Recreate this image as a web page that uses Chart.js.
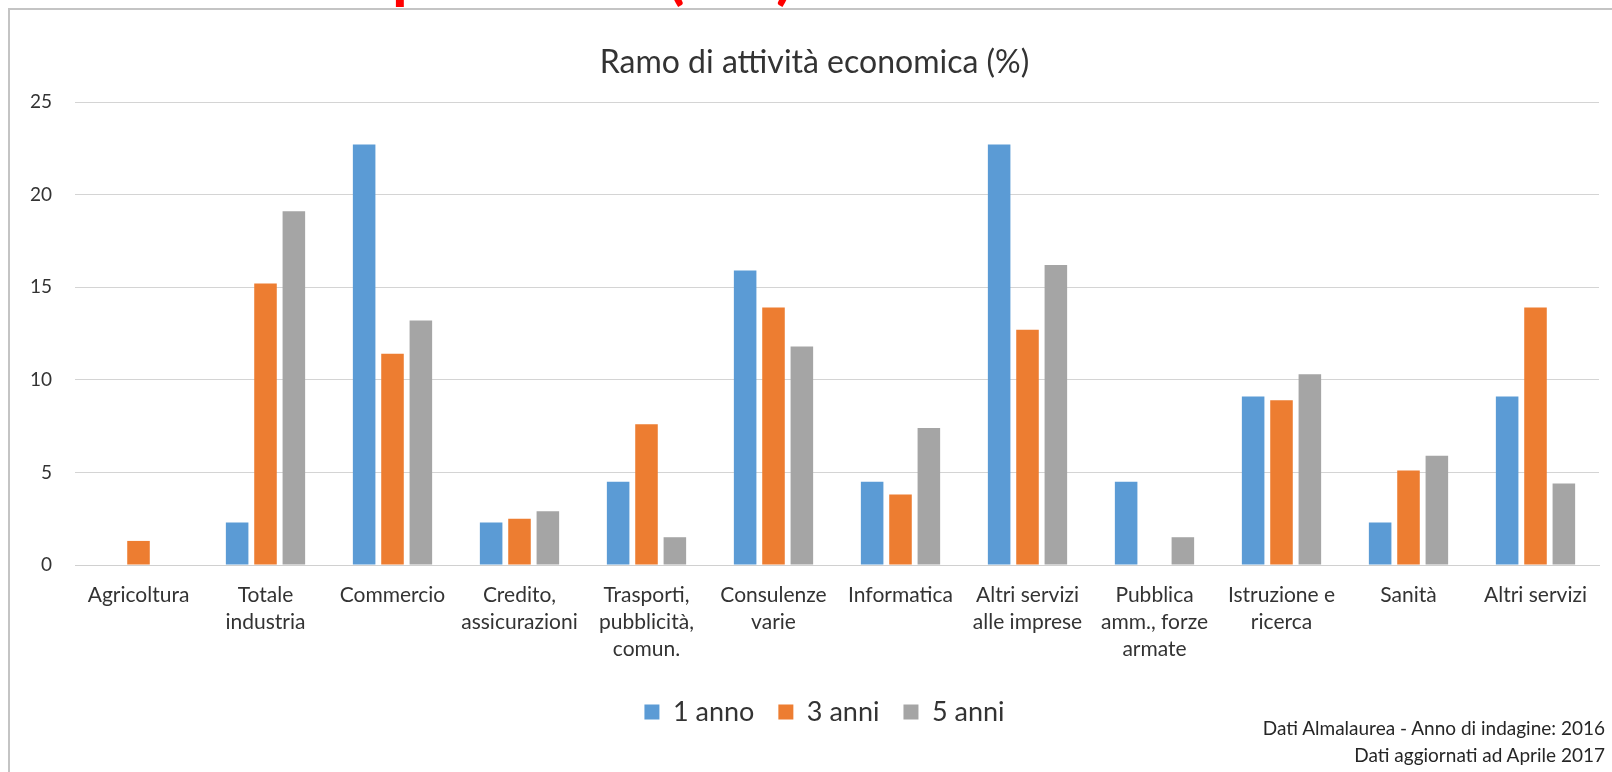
<!DOCTYPE html>
<html>
<head>
<meta charset="utf-8">
<script src="https://cdn.jsdelivr.net/npm/chart.js@4.4.1/dist/chart.umd.min.js"></script>
<style>
  html, body { margin: 0; padding: 0; background: #fff; }
  body { width: 1612px; height: 772px; position: relative; overflow: hidden; font-family: Lato, sans-serif; }
  #frame { position: absolute; left: 8px; top: 8px; width: 1700px; height: 900px; border: 2px solid #c4c4c4; box-sizing: border-box; }
  #wrap { position: absolute; left: 0; top: 0; width: 1612px; height: 772px; }
  .red { position: absolute; color: #f00; font: 700 64px/64px Lato, sans-serif; top: -59px; white-space: pre; }
  #note { position: absolute; right: 7px; top: 714px; text-align: right; font: 19px/27px Lato, sans-serif; color: #262626; }
</style>
</head>
<body>
<div class="red" style="left:392px">p</div>
<div class="red" style="left:667px">(</div>
<div class="red" style="left:776px">)</div>
<div id="frame"></div>
<div id="wrap"><canvas id="chart" width="1612" height="772"></canvas></div>
<div id="note">Dati Almalaurea - Anno di indagine: 2016<br>Dati aggiornati ad Aprile 2017</div>
<script>
const categories = [
  ['Agricoltura'],
  ['Totale', 'industria'],
  ['Commercio'],
  ['Credito,', 'assicurazioni'],
  ['Trasporti,', 'pubblicità,', 'comun.'],
  ['Consulenze', 'varie'],
  ['Informatica'],
  ['Altri servizi', 'alle imprese'],
  ['Pubblica', 'amm., forze', 'armate'],
  ['Istruzione e', 'ricerca'],
  ['Sanità'],
  ['Altri servizi'],
];
const seriesNames = ['1 anno', '3 anni', '5 anni'];
const anno1 = [0, 2.3, 22.7, 2.3, 4.5, 15.9, 4.5, 22.7, 4.5, 9.1, 2.3, 9.1];
const anni3 = [1.3, 15.2, 11.4, 2.5, 7.6, 13.9, 3.8, 12.7, 0, 8.9, 5.1, 13.9];
const anni5 = [0, 19.1, 13.2, 2.9, 1.5, 11.8, 7.4, 16.2, 1.5, 10.3, 5.9, 4.4];
const colors = ['#5B9BD5', '#ED7D31', '#A5A5A5'];

const textColor = '#333333';

// title and legend sit a bit right of the plot centre in the original
const nudge = {
  id: 'nudge',
  afterLayout(chart) {
    chart.titleBlock.left += 10;
    chart.titleBlock.right += 10;
    chart.legend.left += 20;
    chart.legend.right += 20;
  },
};

const chart = new Chart(document.getElementById('chart'), {
  type: 'bar',
  data: {
    labels: categories,
    datasets: [anno1, anni3, anni5].map((data, i) => ({
      label: seriesNames[i],
      data,
      backgroundColor: colors[i],
      categoryPercentage: 0.67,
      barPercentage: 0.795,
    })),
  },
  plugins: [nudge],
  options: {
    responsive: false,
    animation: false,
    layout: { padding: { left: 10, right: 13, top: 9, bottom: 36.5 } },
    plugins: {
      tooltip: { enabled: false },
      title: {
        display: true,
        text: 'Ramo di attività economica (%)',
        color: textColor,
        font: { family: 'Lato', size: 32, weight: 'normal' },
        padding: { top: 34, bottom: 20.6 },
      },
      legend: {
        position: 'bottom',
        labels: {
          boxWidth: 15,
          boxHeight: 15,
          padding: 24,
          color: textColor,
          font: { family: 'Lato', size: 27 },
        },
      },
    },
    scales: {
      x: {
        grid: { display: false },
        border: { display: true, color: '#d0d0d0' },
        ticks: {
          color: textColor,
          font: { family: 'Lato', size: 21, lineHeight: '27px' },
          padding: 9,
          maxRotation: 0,
          autoSkip: false,
        },
        afterFit(scale) { scale.height = 109.5; },
      },
      y: {
        min: 0,
        max: 25,
        grid: { color: '#d4d4d4', drawTicks: false },
        border: { display: false },
        ticks: {
          stepSize: 5,
          color: textColor,
          padding: 23,
          font: { family: 'Lato', size: 19 },
        },
        afterFit(scale) { scale.width = 65; },
      },
    },
  },
});
</script>
</body>
</html>
